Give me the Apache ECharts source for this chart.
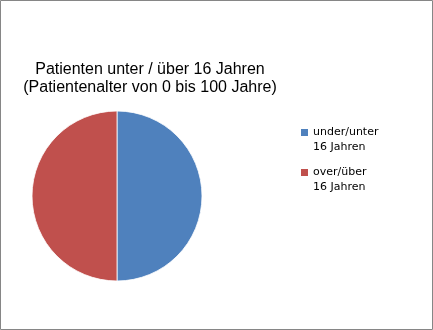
<!DOCTYPE html>
<html><head><meta charset="utf-8">
<script src="https://cdn.jsdelivr.net/npm/echarts@6/dist/echarts.min.js"></script>
<style>html,body{margin:0;padding:0;background:#fff}#c{width:433px;height:330px}</style>
</head><body><div id="c"></div>
<script>
var titleLines = ['Patienten unter / über 16 Jahren', '(Patientenalter von 0 bis 100 Jahre)'];
var categories = ['under/unter\n16 Jahren', 'over/über\n16 Jahren'];
var values = [50, 50];
var colors = ['#4F81BD', '#C0504D'];

var chart = echarts.init(document.getElementById('c'), null, {renderer: 'canvas'});
chart.setOption({
  animation: false,
  graphic: [{
    type: 'rect', silent: true, z: -10,
    shape: {x: 0.5, y: 0.5, width: 432, height: 329},
    style: {fill: 'none', stroke: '#868686', lineWidth: 1}
  }],
  title: {
    text: titleLines.join('\n'),
    left: 145, top: 56, textAlign: 'center',
    textStyle: {fontFamily: 'Liberation Sans', fontSize: 16, fontWeight: 'normal', color: '#000', lineHeight: 18}
  },
  legend: {
    orient: 'vertical', left: 296, top: 120,
    itemWidth: 7, itemHeight: 22, itemGap: 10,
    icon: 'path://M0,0h7v7h-7zM0,22h7v0h-7z',
    itemStyle: {borderWidth: 0},
    textStyle: {fontFamily: 'DejaVu Sans', fontSize: 11, color: '#000', lineHeight: 15},
    data: categories
  },
  series: [{
    type: 'pie',
    center: [117, 196], radius: 85,
    startAngle: 90, clockwise: true,
    label: {show: false}, labelLine: {show: false},
    emphasis: {disabled: true},
    itemStyle: {borderColor: '#ffffff', borderWidth: 0.8},
    data: categories.map(function (c, i) { return {name: c, value: values[i], itemStyle: {color: colors[i]}}; })
  }]
});
</script></body></html>
